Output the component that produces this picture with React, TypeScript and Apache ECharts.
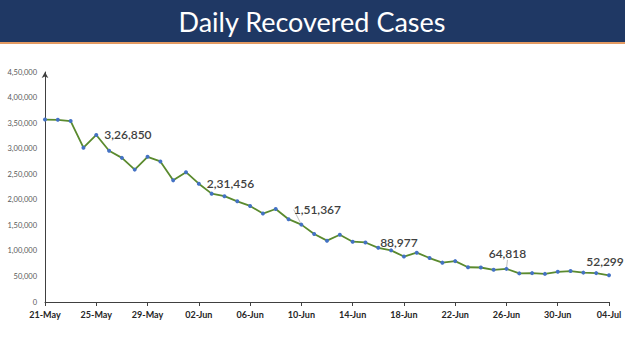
import React, { useEffect, useRef } from "react";
import * as echarts from "echarts";

const dates = [
  "21-May", "22-May", "23-May", "24-May", "25-May", "26-May", "27-May", "28-May", "29-May", "30-May", "31-May",
  "01-Jun", "02-Jun", "03-Jun", "04-Jun", "05-Jun", "06-Jun", "07-Jun", "08-Jun", "09-Jun", "10-Jun",
  "11-Jun", "12-Jun", "13-Jun", "14-Jun", "15-Jun", "16-Jun", "17-Jun", "18-Jun", "19-Jun", "20-Jun",
  "21-Jun", "22-Jun", "23-Jun", "24-Jun", "25-Jun", "26-Jun", "27-Jun", "28-Jun", "29-Jun", "30-Jun",
  "01-Jul", "02-Jul", "03-Jul", "04-Jul",
];

const recovered = [
  357000, 356500, 354000, 302000, 326850, 296000, 282000, 259000, 284000, 275000, 238000,
  254000, 231456, 212000, 207000, 197000, 188000, 173000, 182000, 162000, 151367,
  133000, 120000, 131500, 118000, 116500, 106000, 101000, 88977, 96500, 86000,
  77000, 80000, 68000, 67500, 63000, 64818, 56000, 56500, 55000, 59000,
  60500, 57500, 56500, 52299,
];

const labelledDates = ["25-May", "02-Jun", "10-Jun", "18-Jun", "26-Jun", "04-Jul"];

const title = "Daily Recovered Cases";

function indian(n: number): string {
  const s = String(Math.round(n));
  if (s.length <= 3) return s;
  const last3 = s.slice(-3);
  const rest = s.slice(0, -3).replace(/\B(?=(\d{2})+(?!\d))/g, ",");
  return rest + "," + last3;
}

export default function App() {
  const ref = useRef<HTMLDivElement>(null);
  useEffect(() => {
    if (!ref.current) return;
    const chart = echarts.init(ref.current, null, { renderer: "svg" });
    const labelStyle = {
      show: true,
      fontFamily: "Lato",
      fontSize: 12,
      fontWeight: 600,
      color: "#404040",
      formatter: (p: any) => indian(p.value),
    };
    const data = recovered.map((v, i) => {
      const d = dates[i];
      if (!labelledDates.includes(d)) return v;
      const idx = labelledDates.indexOf(d);
      const pos = idx < 2 ? "right" : "top";
      return {
        value: v,
        label: { ...labelStyle, position: pos, distance: 6 },
        labelLine: { show: idx === 2 || idx === 4, lineStyle: { color: "#bfbfbf", width: 1 } },
      };
    });
    chart.setOption({
      animation: false,
      backgroundColor: "#ffffff",
      graphic: [
        { type: "rect", shape: { x: 0, y: 0, width: 625, height: 42 }, style: { fill: "#1f3864" }, silent: true },
        { type: "rect", shape: { x: 0, y: 42, width: 625, height: 2 }, style: { fill: "#e39a62" }, silent: true },
        {
          type: "text",
          x: 312,
          y: 21,
          style: {
            text: title,
            fill: "#ffffff",
            fontFamily: "Lato",
            fontSize: 27,
            align: "center",
            verticalAlign: "middle",
          },
        },
      ],
      grid: { left: 45, right: 16, top: 72, bottom: 49, containLabel: false },
      xAxis: {
        type: "category",
        data: dates,
        boundaryGap: false,
        axisLine: { lineStyle: { color: "#404040", width: 1 } },
        axisTick: { show: true, interval: 3, length: 4, lineStyle: { color: "#404040" } },
        axisLabel: {
          interval: 3,
          fontFamily: "Lato",
          fontSize: 9,
          fontWeight: "bold",
          color: "#262626",
          margin: 8,
        },
      },
      yAxis: {
        type: "value",
        min: 0,
        max: 450000,
        interval: 50000,
        splitLine: { show: false },
        axisLine: {
          show: true,
          symbol: ["none", "arrow"],
          symbolSize: [5, 6],
          lineStyle: { color: "#404040", width: 1 },
        },
        axisTick: { show: false },
        axisLabel: {
          fontFamily: "Lato",
          fontSize: 7.5,
          color: "#595959",
          margin: 8,
          formatter: (v: number) => indian(v),
        },
      },
      series: [
        {
          type: "line",
          data,
          symbol: "circle",
          symbolSize: 4,
          itemStyle: { color: "#4472c4" },
          lineStyle: { color: "#5a8a2e", width: 1.8 },
          labelLayout: (p: any) => {
            const d = dates[p.dataIndex];
            if (d === "10-Jun") return { dx: 16, dy: -1 };
            if (d === "18-Jun") return { dx: -5, dy: 0 };
            if (d === "26-Jun") return { dx: 1, dy: -1 };
            if (d === "04-Jul") return { dx: -4, dy: 0 };
            return {};
          },
        },
      ],
    });
    return () => chart.dispose();
  }, []);
  return <div ref={ref} style={{ position: "fixed", left: 0, top: 0, width: 625, height: 351 }} />;
}
